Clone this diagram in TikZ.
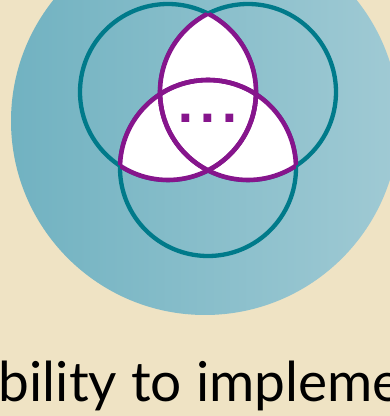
\documentclass[tikz,border=0pt]{standalone}
\usepackage{fontspec}
\usepackage{tikz}
\newfontfamily\labelfont{Lato}
\newfontfamily\dotfont[LetterSpace=12]{DejaVu Sans Bold}
\definecolor{beige}{RGB}{239,227,196}
\definecolor{tealdark}{RGB}{113,178,193}
\definecolor{teallight}{RGB}{160,202,212}
\definecolor{tealline}{RGB}{0,122,138}
\definecolor{plum}{RGB}{134,21,140}
\tikzset{
  ring/.style={draw=tealline,line width=4.3pt},
  overlap/.style={draw=plum,line width=4.6pt},
}

\begin{document}
\begin{tikzpicture}[x=1pt,y=1pt]
                   \useasboundingbox (0,0) rectangle (390,416);
                   \clip (0,0) rectangle (390,416);
                   \fill[beige] (0,0) rectangle (390,416);
                   % big shaded disc behind the three rings
                   \coordinate (disc) at (205,295);
                   \shade[left color=tealdark,right color=teallight] (disc) circle (194);
                   % centres of the rings
                   \coordinate (c_l) at (168,324);
                   \coordinate (c_r) at (248,324);
                   \coordinate (c_b) at (208,248);
                   \foreach \c in {c_l,c_r,c_b}
                     \draw[ring] (\c) circle (88);
                   % white where two rings overlap
                   \foreach \a/\b in {c_l/c_r,c_l/c_b,c_r/c_b}{
                     \begin{scope}
                       \clip (\a) circle (88);
                       \fill[white] (\b) circle (88);
                     \end{scope}
                   }
                   % purple arcs inside the other rings
                   \foreach \a/\b in {c_l/c_r,c_r/c_l,c_l/c_b,c_b/c_l,c_r/c_b,c_b/c_r}{
                     \begin{scope}
                       \clip (\b) circle (88);
                       \draw[overlap] (\a) circle (88);
                     \end{scope}
                   }
                   \node[text=plum,font=\dotfont\fontsize{44}{44}\selectfont] (dots) at (208,298) {...};
                   \node[anchor=base west,font=\labelfont\fontsize{55}{60}\selectfont] (label) at (-32,14) {ability to impleme};
                \end{tikzpicture}
\end{document}
